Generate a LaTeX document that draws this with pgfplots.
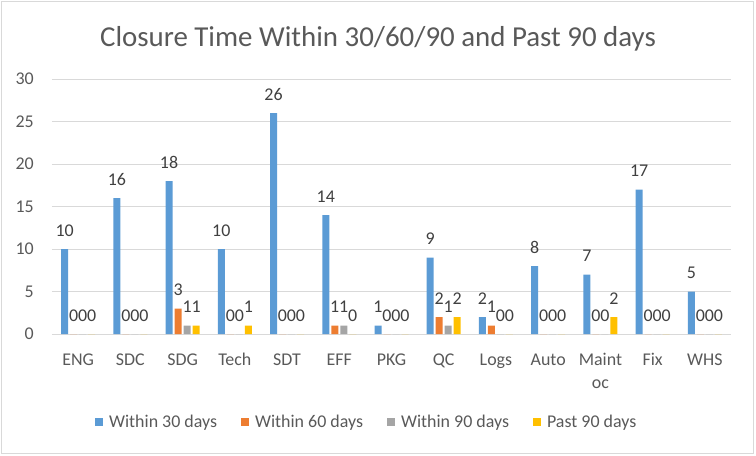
\documentclass[border=0pt]{standalone}
\usepackage{fontspec}
\setmainfont{Carlito}
\usepackage{pgfplots}
\pgfplotsset{compat=1.18}
\definecolor{c30}{HTML}{5B9BD5}
\definecolor{c60}{HTML}{ED7D31}
\definecolor{c90}{HTML}{A5A5A5}
\definecolor{cpast}{HTML}{FFC000}
\definecolor{txt}{HTML}{595959}
\definecolor{lbl}{HTML}{404040}
\definecolor{gridgray}{HTML}{D9D9D9}

\begin{document}
\begin{tikzpicture}
% chart area: plot box lower-left sits at (0,0)
\useasboundingbox (-52bp,-122bp) rectangle (704bp,334bp);
\draw[gridgray, line width=1bp] (-50.5bp,332.5bp) rectangle (701bp,-119bp);
\node[anchor=base, text=txt, font=\fontsize{29}{33}\selectfont] at (326bp,287bp)
    {Closure Time Within 30/60/90 and Past 90 days};
\begin{axis}[
    at={(0,0)}, anchor=south west,
    scale only axis, width=679bp, height=255bp,
    clip=false,
    xmin=-0.5, xmax=12.5, ymin=0, ymax=30,
    ytick={0,5,...,30},
    xtick={0,...,12},
    xticklabels={ENG,SDC,SDG,Tech,SDT,EFF,PKG,QC,Logs,Auto,
        {\begin{tabular}[t]{@{}c@{}}Maint\\oc\end{tabular}},Fix,WHS},
    major tick length=0pt,
    axis line style={draw=none},
    ymajorgrids, grid style={gridgray, line width=1bp},
    /pgf/number format/assume math mode=true,
    tick label style={font=\fontsize{18}{23.5}\selectfont, text=txt},
    xticklabel style={anchor=base, yshift=-31bp, inner sep=0pt},
    yticklabel style={anchor=east, xshift=-18bp, inner sep=0pt},
    ybar=2bp, bar width=7bp,
    nodes near coords,
    every node near coord/.append style={font=\fontsize{18}{20}\selectfont, text=lbl,
        anchor=base, yshift=13bp, inner sep=0pt},
    legend columns=4,
    legend image code/.code={\fill[#1] (0bp,-4bp) rectangle (8bp,4bp);},
    legend style={at={(axis description cs:0.0633,-0.345)}, anchor=west,
        draw=none, fill=none, inner sep=0pt, text=txt,
        font=\fontsize{18}{20}\selectfont,
        nodes={inner sep=0pt},
        /tikz/every odd column/.append style={column sep=6bp},
        /tikz/every even column/.append style={column sep=24bp}},
]
\addplot[fill=c30, draw=none] coordinates {
    (0,10) (1,16) (2,18) (3,10) (4,26) (5,14) (6,1)
    (7,9) (8,2) (9,8) (10,7) (11,17) (12,5)};
\addplot[fill=c60, draw=none] coordinates {
    (0,0) (1,0) (2,3) (3,0) (4,0) (5,1) (6,0)
    (7,2) (8,1) (9,0) (10,0) (11,0) (12,0)};
\addplot[fill=c90, draw=none] coordinates {
    (0,0) (1,0) (2,1) (3,0) (4,0) (5,1) (6,0)
    (7,1) (8,0) (9,0) (10,0) (11,0) (12,0)};
\addplot[fill=cpast, draw=none] coordinates {
    (0,0) (1,0) (2,1) (3,1) (4,0) (5,0) (6,0)
    (7,2) (8,0) (9,0) (10,2) (11,0) (12,0)};
\legend{Within 30 days, Within 60 days, Within 90 days, Past 90 days}
\end{axis}
\end{tikzpicture}
\end{document}
